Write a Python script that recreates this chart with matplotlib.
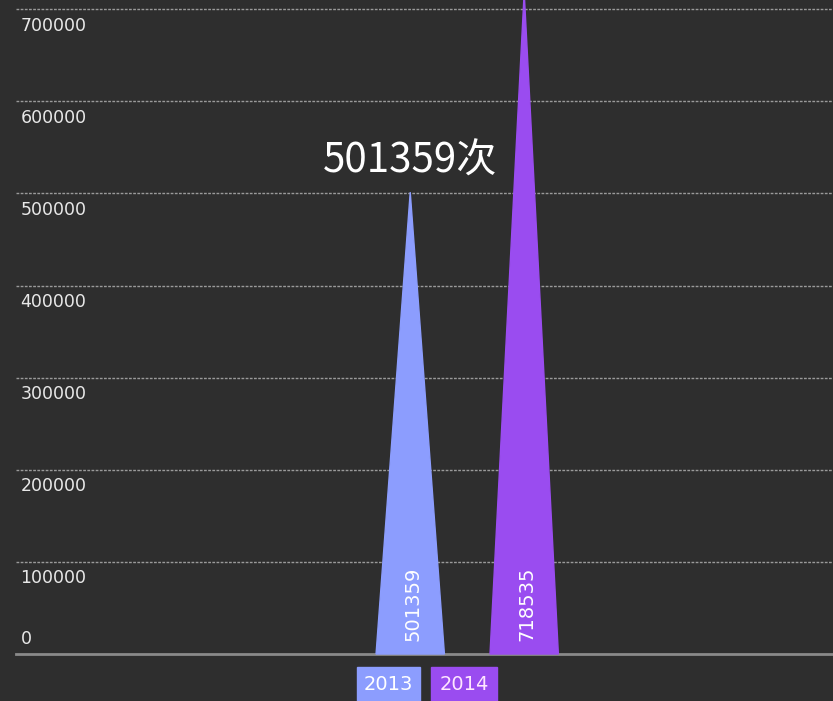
import matplotlib.pyplot as plt
from matplotlib.patches import Polygon, Rectangle

years = ['2013', '2014']
counts = [501359, 718535]
colors = ['#8c9dfe', '#9a4cf0']
yticks = [0, 100000, 200000, 300000, 400000, 500000, 600000, 700000]
note = '501359次'

plt.rcParams['font.family'] = ['Noto Sans CJK SC', 'DejaVu Sans']
bg = '#2e2e2e'
narrow = ['Liberation Sans Narrow', 'DejaVu Sans']

fig = plt.figure(figsize=(8.33, 7.01), dpi=100, facecolor=bg)
ax = fig.add_axes([0, 0, 1, 1])
ax.set_facecolor(bg)
ax.set_xlim(-3.6, 3.71)
ax.set_ylim(-51000, 710000)
ax.axis('off')

# grid + tick labels
for t in yticks:
    if t == 0:
        ax.plot([-3.46, 3.71], [t, t], color='#8a8a8a', lw=2, zorder=1)
        ax.text(-3.42, t + 7000, '0', color='#e8e8e8', fontsize=12.5,
                family='DejaVu Sans', va='bottom', ha='left')
    else:
        ax.plot([-3.46, 3.71], [t, t], color='#9a9a9a', lw=1, ls=(0, (2, 1)), zorder=1)
        ax.text(-3.42, t - 8000, str(t), color='#e8e8e8', fontsize=12.5,
                family='DejaVu Sans', va='top', ha='left')

# triangles
hw = 0.3
for i, (yr, v, c) in enumerate(zip(years, counts, colors)):
    tri = Polygon([[i - hw, 0], [i + hw, 0], [i, v]], closed=True, color=c, zorder=2)
    ax.add_patch(tri)
    ax.text(i + 0.02, 14000, str(v), rotation=90, color='white', fontsize=14,
            family=narrow, ha='center', va='bottom', zorder=3)

ax.text(0, 535000, note, color='white', fontsize=29, ha='center', va='center', zorder=3)

# legend boxes
fig.patches.append(Rectangle((357 / 833, 0), 63 / 833, 34 / 701, transform=fig.transFigure,
                             color=colors[0], zorder=4))
fig.patches.append(Rectangle((431 / 833, 0), 66 / 833, 34 / 701, transform=fig.transFigure,
                             color=colors[1], zorder=4))
fig.text(388.5 / 833, 16 / 701, years[0], color='white', fontsize=14, family=narrow,
         ha='center', va='center', zorder=5)
fig.text(464 / 833, 16 / 701, years[1], color='#ffe6ff', fontsize=14, family=narrow,
         ha='center', va='center', zorder=5)

fig.savefig('out.png', dpi=100, facecolor=bg)
